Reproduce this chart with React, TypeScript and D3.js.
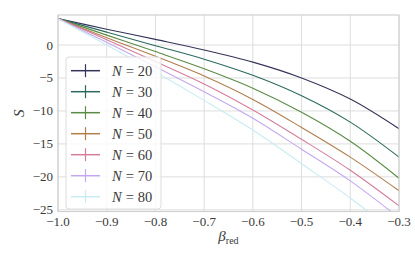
import React from "react";
import * as d3 from "d3";

const betaValues = [-1.0, -0.9, -0.8, -0.7, -0.6, -0.5, -0.4, -0.3];
const s20 = [4.0, 2.4, 0.85, -0.75, -2.6, -5.0, -8.2, -12.7];
const s30 = [4.0, 1.95, -0.1, -2.15, -4.6, -7.7, -11.7, -17.0];
const s40 = [4.0, 1.5, -1.0, -3.6, -6.55, -10.2, -14.6, -20.2];
const s50 = [4.0, 1.1, -1.7, -4.7, -8.25, -12.5, -17.0, -22.1];
const s60 = [4.0, 0.8, -2.5, -5.9, -9.85, -14.3, -19.0, -24.4];
const s70 = [4.0, 0.4, -3.3, -7.1, -11.1, -15.8, -20.6, -26.2];
const s80 = [4.0, 0.0, -4.1, -8.4, -12.9, -18.0, -23.2, -29.0];
const seriesN = [20, 30, 40, 50, 60, 70, 80];
const seriesValues = [s20, s30, s40, s50, s60, s70, s80];
const seriesColors = ["#35355a", "#2c6a5e", "#5a8c45", "#b27e4c", "#d57d9c", "#c3a8ef", "#c8ecf2"];
const xTicks = [-1.0, -0.9, -0.8, -0.7, -0.6, -0.5, -0.4, -0.3];
const yTicks = [0, -5, -10, -15, -20, -25];

const W = 415;
const H = 260;
const L = 58, R = 399, T = 15, B = 211.5;
const FONT = "Liberation Serif, DejaVu Serif, Times New Roman, serif";

const fmt = (v: number) => (v < 0 ? "\u2212" : "") + Math.abs(v).toString();
const fmtX = (v: number) => (v < 0 ? "\u2212" : "") + Math.abs(v).toFixed(1);

export default function App() {
  const x = d3.scaleLinear().domain([-1.0, -0.3]).range([L, R]);
  const y = d3.scaleLinear().domain([-25.25, 4.55]).range([B, T]);
  const line = d3
    .line<number>()
    .x((_, i) => x(betaValues[i]))
    .y((d) => y(d))
    .curve(d3.curveCatmullRom.alpha(0.5));

  const gridColor = "#dddddd";
  const spineColor = "#d0d0d0";
  const textColor = "#3a3a3a";

  const legX = 66, legY = 57, legW = 95, legH = 152;
  const entryY0 = 70.7, entryStep = 21;

  return (
    <svg width={W} height={H} style={{ position: "absolute", left: 0, top: 0, background: "#fff" }}>
      <defs>
        <clipPath id="plotClip">
          <rect x={L} y={T} width={R - L} height={B - T} />
        </clipPath>
      </defs>
      {xTicks.map((t) => (
        <line key={"gx" + t} x1={x(t)} x2={x(t)} y1={T} y2={B} stroke={gridColor} strokeWidth={1} />
      ))}
      {yTicks.map((t) => (
        <line key={"gy" + t} x1={L} x2={R} y1={y(t)} y2={y(t)} stroke={gridColor} strokeWidth={1} />
      ))}
      <g clipPath="url(#plotClip)">
        {seriesValues.map((vals, i) => (
          <path key={"s" + i} d={line(vals) || ""} fill="none" stroke={seriesColors[i]} strokeWidth={1.1} />
        ))}
      </g>
      <rect x={L} y={T} width={R - L} height={B - T} fill="none" stroke={spineColor} strokeWidth={1.2} />
      {xTicks.map((t) => (
        <text key={"tx" + t} x={x(t)} y={226} textAnchor="middle" style={{ fontFamily: FONT }} fontSize={13} fill={textColor}>
          {fmtX(t)}
        </text>
      ))}
      {yTicks.map((t) => (
        <text key={"ty" + t} x={53} y={y(t) + 4.5} textAnchor="end" style={{ fontFamily: FONT }} fontSize={13} fill={textColor}>
          {fmt(t)}
        </text>
      ))}
      <text
        x={0}
        y={0}
        transform={`translate(24, ${(T + B) / 2}) rotate(-90)`}
        textAnchor="middle"
        style={{ fontFamily: FONT }}
        fontSize={15}
        fontStyle="italic"
        fill={textColor}
      >
        S
      </text>
      <text x={(L + R) / 2} y={241} textAnchor="middle" style={{ fontFamily: FONT }} fontSize={15} fill={textColor}>
        <tspan fontStyle="italic">β</tspan>
        <tspan fontSize={10} dy={3}>red</tspan>
      </text>
      <rect x={legX} y={legY} width={legW} height={legH} rx={3} ry={3} fill="#ffffff" fillOpacity={0.8} stroke="#dcdcdc" strokeWidth={1} />
      {seriesN.map((n, i) => {
        const cy = entryY0 + i * entryStep;
        return (
          <g key={"leg" + n}>
            <line x1={71} x2={100} y1={cy} y2={cy} stroke={seriesColors[i]} strokeWidth={1.5} />
            <line x1={85.5} x2={85.5} y1={cy - 6.5} y2={cy + 6.5} stroke={seriesColors[i]} strokeWidth={1.2} />
            <text x={112} y={cy + 5} style={{ fontFamily: FONT }} fontSize={14.5} fill={textColor}>
              <tspan fontStyle="italic">N</tspan>
              <tspan dx={4}>=</tspan>
              <tspan dx={4}>{n}</tspan>
            </text>
          </g>
        );
      })}
    </svg>
  );
}
